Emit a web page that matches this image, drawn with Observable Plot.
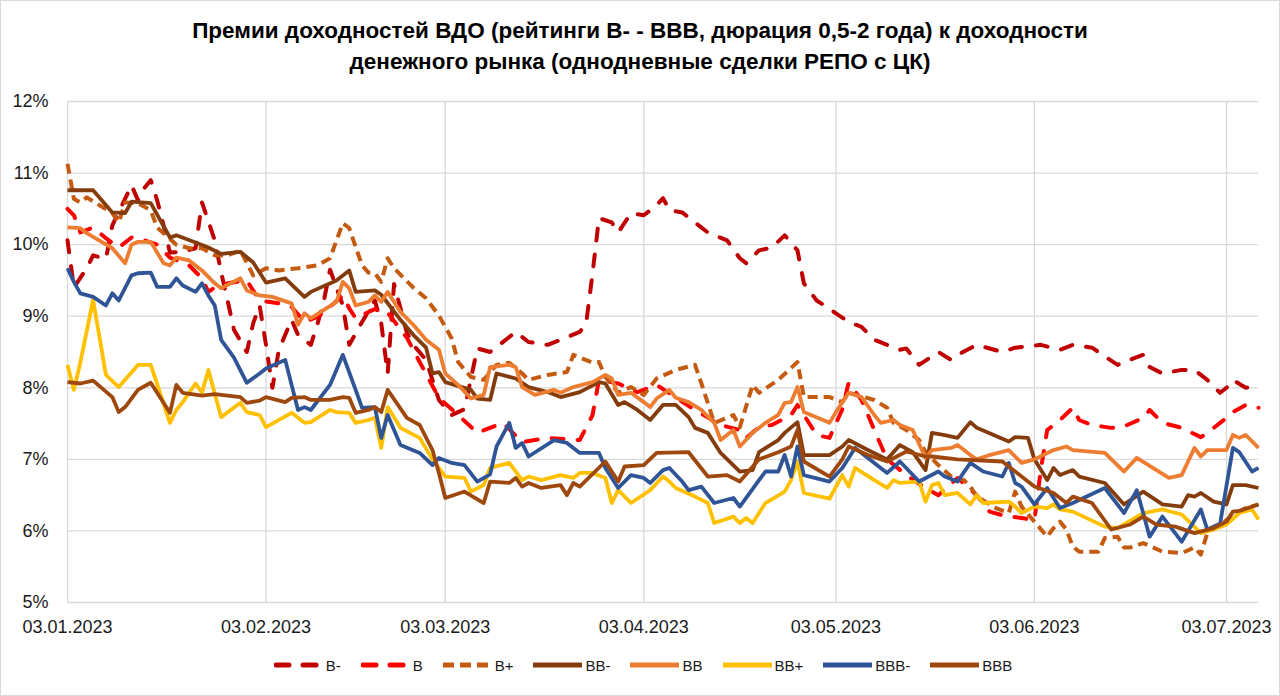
<!DOCTYPE html>
<html>
<head>
<meta charset="utf-8">
<script src="https://cdn.jsdelivr.net/npm/d3@7"></script>
<script src="https://cdn.jsdelivr.net/npm/@observablehq/plot@0.6"></script>
<style>
  html, body { margin: 0; padding: 0; background: #fff; }
  #chart { position: relative; width: 1280px; height: 696px; background: #fff; overflow: hidden;
           font-family: "Liberation Sans", Arial, sans-serif; }
  #frame { position: absolute; left: 0; top: 0; width: 1278px; height: 694px; border: 1px solid #d9d9d9; pointer-events: none; }
  #title { position: absolute; top: 15px; left: 0; width: 1280px; text-align: center; font-weight: bold;
           font-size: 22.5px; line-height: 31px; color: #000; }
  #plot { position: absolute; left: 0; top: 0; }
  #legend { position: absolute; top: 653px; left: 3px; width: 1280px; height: 24px; display: flex;
            justify-content: center; align-items: center; font-size: 15px; color: #1a1a1a; }
  .item { display: flex; align-items: center; margin: 0 10px; }
  .item svg { margin-right: 3px; }
</style>
</head>
<body>
<div id="chart">
  <div id="plot"></div>
  <div id="title">Премии доходностей ВДО (рейтинги B- - BBB, дюрация 0,5-2 года) к доходности<br>денежного рынка (однодневные сделки РЕПО с ЦК)</div>
  <div id="legend"></div>
  <div id="frame"></div>
</div>
<script>
// ---------- data (dates as "MM-DD" of 2023, values in %) ----------
const X_TICKS = ["01-03", "02-03", "03-03", "04-03", "05-03", "06-03", "07-03"];
const Y_TICKS = [5, 6, 7, 8, 9, 10, 11, 12];
const SERIES_NAMES = ["B-", "B", "B+", "BB-", "BB", "BB+", "BBB-", "BBB"];

const B_MINUS = [
["01-03",10.06],["01-04",9.4],["01-06",9.67],["01-07",9.85],["01-09",9.8],["01-10",10.27],["01-13",10.83],
["01-14",10.62],["01-15",10.79],["01-16",10.9],["01-17",10.62],["01-18",10.27],["01-19",9.89],["01-21",9.9],
["01-23",9.95],["01-24",10.59],["01-26",10.06],["01-27",9.61],["01-28",9.22],["01-29",8.81],["01-31",8.5],
["02-01",8.9],["02-02",9.15],["02-03",8.6],["02-04",8.0],["02-05",8.53],["02-07",8.95],["02-08",8.74],["02-10",8.6],["02-11",8.88],
["02-12",9.2],["02-13",9.65],["02-15",9.15],["02-16",8.6],["02-18",8.92],["02-20",9.22],["02-21",8.9],["02-22",8.2],
["02-23",9.45],["02-25",8.77],["02-26",8.6],["02-28",8.39],["03-02",7.83],["03-04",7.62],["03-06",7.7],
["03-08",8.55],["03-10",8.5],["03-14",8.78],["03-16",8.64],["03-19",8.6],["03-21",8.67],["03-24",8.78],
["03-25",8.9],["03-26",9.6],["03-27",10.37],["03-29",10.31],["03-30",10.17],["04-01",10.44],["04-03",10.41],
["04-05",10.55],["04-06",10.65],["04-07",10.48],["04-09",10.45],["04-11",10.31],["04-13",10.17],["04-16",10.06],
["04-18",9.81],["04-19",9.74],["04-21",9.92],["04-23",9.96],["04-25",10.13],["04-27",9.92],["04-28",9.46],
["04-30",9.22],["05-03",9.04],["05-05",8.92],["05-07",8.85],["05-09",8.67],["05-13",8.53],["05-14",8.55],
["05-16",8.32],["05-19",8.5],["05-21",8.39],["05-22",8.46],["05-25",8.6],["05-29",8.5],["05-31",8.56],
["06-04",8.6],["06-07",8.53],["06-09",8.6],["06-12",8.56],["06-16",8.32],["06-17",8.36],["06-20",8.46],
["06-21",8.29],["06-23",8.2],["06-26",8.25],["06-28",8.25],["06-30",8.11],["07-02",7.93],["07-03",8.0],
["07-04",8.11],["07-06",8.0],["07-08",8.02]
];

const B_MID = [
["01-03",10.5],["01-04",10.41],["01-05",10.17],["01-07",10.24],["01-09",10.09],["01-11",9.96],["01-13",10.1],
["01-15",10.06],["01-17",10.0],["01-19",9.82],["01-22",9.71],["01-24",9.53],["01-25",9.34],["01-26",9.4],
["01-28",9.46],["01-31",9.5],["02-02",9.22],["02-05",9.18],["02-07",9.13],["02-09",8.92],["02-11",8.99],
["02-13",9.13],["02-15",9.29],["02-16",9.11],["02-17",8.97],["02-19",9.06],["02-20",9.1],["02-22",9.05],
["02-25",8.7],["02-27",8.36],["03-02",7.86],["03-05",7.62],["03-08",7.37],["03-12",7.51],["03-15",7.24],
["03-19",7.3],["03-24",7.27],["03-26",7.62],["03-27",8.11],["03-30",8.06],["04-02",7.94],["04-05",8.04],
["04-11",7.69],["04-15",7.48],["04-18",7.41],["04-19",7.3],["04-21",7.45],["04-23",7.48],["04-26",7.62],
["04-27",7.76],["04-30",7.34],["05-02",7.3],["05-04",7.7],["05-05",8.07],["05-07",7.83],["05-09",7.41],
["05-11",7.0],["05-14",6.78],["05-17",6.6],["05-19",6.5],["05-22",6.74],["05-25",6.5],["05-27",6.27],
["05-29",6.22],["06-01",6.18],["06-03",6.15],["06-04",6.85],["06-05",7.41],["06-07",7.55],["06-09",7.72],
["06-10",7.55],["06-12",7.48],["06-15",7.44],["06-17",7.46],["06-20",7.58],["06-21",7.69],["06-23",7.51],
["06-26",7.44],["06-29",7.31],["06-30",7.37],["07-03",7.58],["07-04",7.66],["07-06",7.76],["07-08",7.72]
];

const B_PLUS = [
["01-03",11.13],["01-04",10.64],["01-05",10.59],["01-06",10.66],["01-08",10.55],["01-10",10.44],["01-11",10.31],
["01-12",10.59],["01-14",10.58],["01-16",10.48],["01-17",10.24],["01-20",10.0],["01-22",9.95],["01-24",9.95],
["01-26",9.85],["01-28",9.85],["01-30",9.92],["02-01",9.57],["02-03",9.67],["02-05",9.64],["02-08",9.67],
["02-11",9.71],["02-13",9.81],["02-15",10.3],["02-16",10.23],["02-18",9.71],["02-19",9.61],["02-20",9.6],
["02-21",9.48],["02-22",9.81],["02-23",9.67],["02-26",9.4],["02-28",9.25],["03-02",9.01],["03-04",8.69],
["03-05",8.36],["03-07",8.15],["03-09",8.11],["03-11",8.32],["03-13",8.35],["03-15",8.2],["03-16",8.11],
["03-19",8.18],["03-22",8.22],["03-23",8.46],["03-26",8.35],["03-27",8.36],["03-28",8.15],["03-30",7.93],
["04-01",8.01],["04-03",7.9],["04-05",8.13],["04-08",8.25],["04-11",8.32],["04-12",8.06],["04-14",7.51],
["04-16",7.58],["04-17",7.62],["04-18",7.45],["04-20",8.04],["04-21",7.93],["04-24",8.11],["04-27",8.36],
["04-28",7.87],["05-02",7.87],["05-04",7.8],["05-05",7.93],["05-09",7.83],["05-11",7.72],["05-12",7.51],
["05-14",7.41],["05-16",7.27],["05-17",7.1],["05-19",6.92],["05-21",6.76],["05-23",6.71],["05-24",6.62],
["05-25",6.48],["05-28",6.32],["05-30",6.25],["05-31",6.55],["06-01",6.34],["06-03",6.13],["06-05",5.92],
["06-06",6.04],["06-07",6.13],["06-08",6.02],["06-09",5.78],["06-10",5.71],["06-13",5.71],["06-14",5.9],
["06-16",5.92],["06-17",5.77],["06-18",5.77],["06-20",5.83],["06-23",5.71],["06-26",5.69],["06-28",5.77],
["06-29",5.67],["06-30",5.97],["07-03",6.15],["07-06",6.32],["07-08",6.37]
];

const BB_MINUS = [
["01-03",10.76],["01-07",10.76],["01-10",10.45],["01-12",10.44],["01-13",10.6],["01-16",10.58],["01-19",10.1],
["01-20",10.13],["01-23",10.03],["01-25",9.96],["01-27",9.87],["01-30",9.9],["02-01",9.75],["02-03",9.47],
["02-06",9.53],["02-09",9.27],["02-10",9.34],["02-14",9.5],["02-16",9.64],["02-17",9.34],["02-20",9.36],
["02-21",9.3],["02-24",8.95],["02-26",8.74],["02-28",8.56],["03-01",8.2],["03-02",8.22],["03-03",8.08],
["03-07",7.97],["03-08",7.85],["03-10",7.83],["03-11",8.2],["03-14",8.13],["03-16",8.01],["03-19",7.94],
["03-21",7.87],["03-24",7.94],["03-27",8.08],["03-28",8.06],["03-30",7.76],["03-31",7.8],["04-02",7.69],
["04-04",7.55],["04-06",7.76],["04-08",7.76],["04-10",7.59],["04-11",7.44],["04-13",7.37],["04-15",7.09],
["04-18",6.83],["04-20",6.85],["04-21",7.1],["04-24",7.27],["04-25",7.37],["04-27",7.52],["04-28",7.06],
["05-02",7.06],["05-04",7.18],["05-05",7.27],["05-08",7.13],["05-11",7.0],["05-13",7.2],["05-15",7.1],
["05-17",6.85],["05-18",7.37],["05-20",7.34],["05-22",7.3],["05-24",7.52],["05-25",7.44],["05-30",7.25],
["05-31",7.31],["06-02",7.3],["06-03",7.0],["06-05",6.71],["06-06",6.88],["06-07",6.78],["06-09",6.85],
["06-10",6.76],["06-14",6.67],["06-17",6.37],["06-20",6.55],["06-23",6.37],["06-26",6.34],["06-27",6.5],
["06-28",6.48],["06-29",6.53],["07-01",6.41],["07-03",6.37],["07-04",6.64],["07-06",6.64],["07-08",6.6]
];

const BB_MID = [
["01-03",10.24],["01-05",10.23],["01-06",10.16],["01-10",9.95],["01-12",9.74],["01-13",10.0],["01-14",10.04],
["01-16",10.04],["01-18",9.74],["01-19",9.71],["01-20",9.82],["01-22",9.78],["01-24",9.64],["01-26",9.46],
["01-27",9.39],["01-30",9.53],["01-31",9.36],["02-02",9.29],["02-04",9.27],["02-07",9.18],["02-08",8.88],
["02-09",9.04],["02-10",8.97],["02-14",9.2],["02-15",9.48],["02-16",9.39],["02-17",9.15],["02-19",9.2],
["02-20",9.29],["02-21",9.2],["02-22",9.34],["02-24",9.06],["02-26",8.88],["02-28",8.67],["03-02",8.53],
["03-03",8.2],["03-05",8.04],["03-07",7.85],["03-09",7.9],["03-10",8.29],["03-13",8.32],["03-14",8.29],
["03-15",8.01],["03-17",7.9],["03-20",7.97],["03-21",7.93],["03-23",8.01],["03-26",8.08],["03-28",8.18],
["03-29",8.13],["03-30",7.9],["04-01",7.93],["04-03",7.8],["04-04",7.73],["04-05",7.85],["04-07",7.97],
["04-08",7.86],["04-10",7.8],["04-12",7.69],["04-14",7.51],["04-15",7.27],["04-17",7.41],["04-18",7.18],
["04-20",7.37],["04-22",7.51],["04-24",7.62],["04-25",7.79],["04-26",7.8],["04-27",8.01],["04-28",7.66],
["05-02",7.51],["05-03",7.66],["05-05",7.93],["05-07",7.87],["05-09",7.62],["05-10",7.51],["05-12",7.55],
["05-13",7.48],["05-15",7.41],["05-17",7.02],["05-18",7.13],["05-21",7.16],["05-22",7.2],["05-24",7.06],
["05-25",7.0],["05-27",7.06],["05-30",7.13],["06-01",6.95],["06-03",7.0],["06-06",7.13],["06-08",7.18],
["06-09",7.13],["06-14",7.09],["06-17",6.83],["06-19",7.02],["06-24",6.74],["06-26",6.78],["06-28",7.16],
["06-29",7.04],["06-30",7.13],["07-03",7.13],["07-04",7.34],["07-05",7.3],["07-06",7.34],["07-08",7.16]
];

const BB_PLUS = [
["01-03",8.32],["01-04",7.97],["01-05",8.35],["01-07",9.23],["01-09",8.18],["01-11",8.01],["01-14",8.32],
["01-16",8.32],["01-19",7.51],["01-20",7.69],["01-21",7.8],["01-23",8.06],["01-24",7.93],["01-25",8.25],
["01-27",7.59],["01-30",7.79],["01-31",7.66],["02-02",7.62],["02-03",7.45],["02-07",7.65],["02-09",7.51],
["02-10",7.52],["02-13",7.69],["02-14",7.66],["02-16",7.65],["02-17",7.51],["02-19",7.55],["02-20",7.58],
["02-21",7.16],["02-22",7.73],["02-24",7.44],["02-27",7.3],["03-01",7.0],["03-03",6.76],["03-06",6.74],
["03-07",6.55],["03-09",6.64],["03-10",6.88],["03-13",6.95],["03-15",6.71],["03-16",6.76],["03-18",6.71],
["03-21",6.78],["03-23",6.74],["03-24",6.81],["03-26",6.81],["03-28",6.74],["03-29",6.39],["03-30",6.57],
["04-01",6.39],["04-04",6.57],["04-06",6.76],["04-07",6.69],["04-08",6.6],["04-11",6.48],["04-13",6.39],
["04-14",6.11],["04-17",6.2],["04-18",6.11],["04-19",6.18],["04-20",6.11],["04-22",6.39],["04-25",6.55],
["04-26",6.71],["04-27",6.97],["04-28",6.53],["05-02",6.45],["05-04",6.78],["05-05",6.62],["05-06",6.88],
["05-09",6.71],["05-11",6.6],["05-12",6.71],["05-13",6.67],["05-16",6.69],["05-17",6.41],["05-18",6.64],
["05-19",6.67],["05-20",6.5],["05-22",6.53],["05-24",6.37],["05-25",6.5],["05-26",6.39],["05-30",6.41],
["05-31",6.34],["06-01",6.25],["06-03",6.34],["06-05",6.32],["06-06",6.37],["06-07",6.3],["06-09",6.27],
["06-14",6.06],["06-16",6.04],["06-20",6.25],["06-23",6.3],["06-26",6.23],["06-29",5.97],["07-01",6.02],
["07-03",6.09],["07-05",6.25],["07-07",6.3],["07-08",6.16]
];

const BBB_MINUS = [
["01-03",9.67],["01-04",9.48],["01-05",9.32],["01-07",9.27],["01-09",9.15],["01-10",9.32],["01-11",9.22],
["01-13",9.57],["01-14",9.6],["01-16",9.61],["01-17",9.41],["01-19",9.41],["01-20",9.53],["01-21",9.43],
["01-23",9.34],["01-24",9.46],["01-25",9.29],["01-26",9.15],["01-27",8.67],["01-29",8.42],["01-31",8.07],
["02-02",8.2],["02-03",8.27],["02-06",8.39],["02-08",7.69],["02-09",7.73],["02-10",7.69],["02-13",8.04],
["02-15",8.46],["02-17",7.97],["02-18",7.72],["02-20",7.73],["02-21",7.3],["02-22",7.62],["02-24",7.2],
["02-27",7.09],["03-01",6.92],["03-02",7.02],["03-04",6.95],["03-06",6.92],["03-08",6.69],["03-10",6.79],
["03-11",7.18],["03-13",7.51],["03-14",7.16],["03-15",7.23],["03-16",7.04],["03-20",7.27],["03-22",7.23],
["03-24",7.09],["03-27",7.09],["03-28",6.88],["03-30",6.6],["04-01",6.78],["04-03",6.74],["04-04",6.67],
["04-06",6.85],["04-07",6.88],["04-09",6.69],["04-10",6.57],["04-12",6.62],["04-14",6.39],["04-17",6.46],
["04-18",6.34],["04-21",6.71],["04-22",6.83],["04-24",6.83],["04-25",7.06],["04-26",6.76],["04-27",7.18],
["04-28",6.78],["05-02",6.69],["05-04",6.88],["05-06",7.16],["05-11",6.81],["05-13",6.97],["05-16",6.69],
["05-19",6.83],["05-20",6.76],["05-22",6.69],["05-24",6.95],["05-26",6.83],["05-29",6.76],["05-30",6.95],
["05-31",6.67],["06-01",6.62],["06-03",6.37],["06-05",6.6],["06-07",6.32],["06-09",6.39],["06-14",6.6],
["06-17",6.25],["06-19",6.57],["06-21",5.92],["06-23",6.2],["06-26",5.85],["06-29",6.3],["06-30",6.02],
["07-02",6.1],["07-04",7.16],["07-05",7.1],["07-07",6.83],["07-08",6.88]
];

const BBB_MID = [
["01-03",8.08],["01-05",8.06],["01-07",8.1],["01-10",7.87],["01-11",7.66],["01-12",7.73],["01-14",7.97],
["01-16",8.07],["01-19",7.65],["01-20",8.04],["01-21",7.93],["01-24",7.89],["01-26",7.91],["01-30",7.87],
["01-31",7.79],["02-02",7.82],["02-03",7.87],["02-06",7.8],["02-07",7.86],["02-09",7.87],["02-10",7.83],
["02-13",7.83],["02-15",7.87],["02-16",7.86],["02-17",7.65],["02-19",7.69],["02-20",7.73],["02-21",7.66],
["02-22",7.97],["02-25",7.58],["02-27",7.48],["03-01",7.13],["03-02",6.81],["03-03",6.46],["03-06",6.55],
["03-09",6.39],["03-10",6.69],["03-13",6.67],["03-14",6.74],["03-15",6.62],["03-16",6.67],["03-18",6.6],
["03-21",6.64],["03-22",6.5],["03-23",6.67],["03-24",6.62],["03-28",6.97],["03-30",6.69],["03-31",6.9],
["04-03",6.92],["04-05",7.09],["04-10",7.1],["04-13",6.76],["04-16",6.78],["04-18",6.69],["04-21",7.0],
["04-24",7.1],["04-26",7.18],["04-27",7.41],["04-28",6.97],["05-02",6.76],["05-04",7.0],["05-05",7.18],
["05-08",7.06],["05-11",6.97],["05-14",7.11],["05-17",7.04],["05-18",7.04],["05-22",7.0],["05-29",6.97],
["05-31",6.83],["06-03",6.62],["06-06",6.53],["06-08",6.39],["06-09",6.48],["06-12",6.39],["06-15",6.02],
["06-18",6.09],["06-20",6.2],["06-22",6.09],["06-25",6.06],["06-28",5.97],["07-01",6.04],["07-03",6.13],
["07-04",6.27],["07-05",6.28],["07-08",6.37]
];

const SERIES_DATA = [B_MINUS, B_MID, B_PLUS, BB_MINUS, BB_MID, BB_PLUS, BBB_MINUS, BBB_MID];
const SERIES_COLORS = ["#C00000", "#FF0000", "#C55A11", "#843C0C", "#ED7D31", "#FFC000", "#2F5597", "#9E480E"];
const SERIES_DASH = ["12,14", "12,14", "10,6", null, null, null, null, null];

// ---------- chart ----------
const parse = md => new Date(`2023-${md}T00:00:00Z`);
const xTickDates = X_TICKS.map(parse);
const fmt = d3.utcFormat("%d.%m.%Y");

const lineMarks = SERIES_DATA.map((data, i) => Plot.line(data, {
  x: d => parse(d[0]),
  y: d => d[1],
  stroke: SERIES_COLORS[i],
  strokeWidth: SERIES_DASH[i] ? 4 : 3.8,
  strokeDasharray: SERIES_DASH[i] || undefined,
  strokeLinecap: i < 2 ? "round" : "butt",
  strokeLinejoin: "round",
  curve: "linear"
}));

const plot = Plot.plot({
  width: 1280,
  height: 650,
  marginTop: 101,
  marginBottom: 48,
  marginLeft: 67,
  marginRight: 22,
  style: { fontFamily: "'Liberation Sans', Arial, sans-serif", color: "#1a1a1a", background: "transparent", overflow: "visible" },
  x: { type: "utc", domain: [parse("01-03"), parse("07-08")], label: null },
  y: { domain: [5, 12], label: null },
  marks: [
    Plot.gridY(Y_TICKS, { stroke: "#d9d9d9", strokeOpacity: 1, strokeWidth: 1.3 }),
    Plot.gridX(xTickDates, { stroke: "#d9d9d9", strokeOpacity: 1, strokeWidth: 1.3 }),
    ...lineMarks,
    Plot.axisY(Y_TICKS, { tickSize: 0, tickPadding: 19, tickFormat: d => d + "%", fontSize: 18, label: null }),
    Plot.axisX(xTickDates, { tickSize: 0, tickPadding: 18, tickFormat: fmt, fontSize: 18, label: null })
  ]
});
document.getElementById("plot").appendChild(plot);

// ---------- legend ----------
const legend = d3.select("#legend");
SERIES_NAMES.forEach((name, i) => {
  const item = legend.append("div").attr("class", "item");
  const svg = item.append("svg").attr("width", 49).attr("height", 10);
  svg.append("line")
    .attr("x1", SERIES_DASH[i] && i < 2 ? 2 : 0).attr("x2", 49).attr("y1", 5).attr("y2", 5)
    .attr("stroke", SERIES_COLORS[i])
    .attr("stroke-width", 5)
    .attr("stroke-dasharray", SERIES_DASH[i] ? (i < 2 ? "13,14" : "11,6") : null)
    .attr("stroke-linecap", i < 2 ? "round" : "butt");
  item.append("span").text(name);
});
</script>
</body>
</html>
